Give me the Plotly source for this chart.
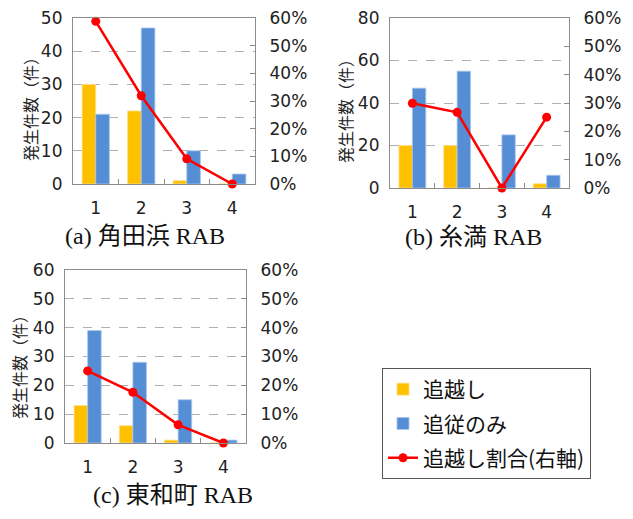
import plotly.graph_objects as go

categories = ["1", "2", "3", "4"]

# (a) 角田浜 RAB
a_overtake = [30, 22, 1, 0]
a_follow = [21, 47, 10, 3]
a_ratio = [58.8, 31.9, 9.1, 0.0]

# (b) 糸満 RAB
b_overtake = [20, 20, 0, 2]
b_follow = [47, 55, 25, 6]
b_ratio = [29.9, 26.7, 0.0, 25.0]

# (c) 東和町 RAB
c_overtake = [13, 6, 1, 0]
c_follow = [39, 28, 15, 1]
c_ratio = [25.0, 17.6, 6.3, 0.0]

series_names = ["追越し", "追従のみ", "追越し割合(右軸)"]
captions = ["(a) 角田浜 RAB", "(b) 糸満 RAB", "(c) 東和町 RAB"]
left_ranges = [50, 80, 60]
left_dticks = [10, 20, 10]
right_ticks = [0, 10, 20, 30, 40, 50, 60]
right_ticklabels = ["0%", "10%", "20%", "30%", "40%", "50%", "60%"]
ytitle = "発生件数（件）"

W, H = 633, 519
ORANGE = "#FFC000"
BLUE = "#558ED5"
RED = "#FF0000"
AXIS_GRAY = "#8c8c8c"
TICK_FONT = dict(family="DejaVu Sans, Liberation Sans, sans-serif", size=17, color="#222222")
CJK_FONT = "Noto Sans CJK JP"

# plot areas in pixels: (left, right, top, bottom)
boxes = [(73, 255, 18, 184), (390, 569, 18, 188), (65, 246, 270, 443)]

def xd(px):
    return px / W

def yd(py):
    return 1 - py / H

panels = [
    (a_overtake, a_follow, a_ratio),
    (b_overtake, b_follow, b_ratio),
    (c_overtake, c_follow, c_ratio),
]

fig = go.Figure()
layout = {}
annotations = []

for i, (ov, fo, ra) in enumerate(panels):
    n = i + 1
    xname = "x" if n == 1 else f"x{n}"
    yL = 2 * i + 1
    yR = 2 * i + 2
    yLname = "y" if yL == 1 else f"y{yL}"
    yRname = f"y{yR}"
    show = (i == 0)

    fig.add_trace(go.Bar(
        x=categories, y=ov, name=series_names[0], marker_color=ORANGE,
        marker_line=dict(color="#FFE08A", width=0.8),
        xaxis=xname, yaxis=yLname, showlegend=show, legendgroup="g1",
        offsetgroup="o1",
    ))
    fig.add_trace(go.Bar(
        x=categories, y=fo, name=series_names[1], marker_color=BLUE,
        marker_line=dict(color="#A9C6EE", width=0.8),
        xaxis=xname, yaxis=yLname, showlegend=show, legendgroup="g2",
        offsetgroup="o2",
    ))
    fig.add_trace(go.Scatter(
        x=categories, y=ra, name=series_names[2], mode="lines+markers",
        line=dict(color=RED, width=2.5), marker=dict(color=RED, size=9),
        xaxis=xname, yaxis=yRname, showlegend=show, legendgroup="g3",
        cliponaxis=False,
    ))

    l, r, t, b = boxes[i]
    xkey = "xaxis" if n == 1 else f"xaxis{n}"
    yLkey = "yaxis" if yL == 1 else f"yaxis{yL}"
    yRkey = f"yaxis{yR}"

    layout[xkey] = dict(
        domain=[xd(l), xd(r)], anchor=yLname, type="category",
        showline=True, linecolor=AXIS_GRAY, linewidth=1.2, mirror=True,
        ticks="inside", tickson="boundaries", ticklen=5, tickcolor=AXIS_GRAY,
        tickfont=TICK_FONT, ticklabelstandoff=8, showgrid=False,
        automargin=False, fixedrange=True,
    )
    layout[yLkey] = dict(
        domain=[yd(b), yd(t)], anchor=xname, range=[0, left_ranges[i]],
        dtick=left_dticks[i], tick0=0,
        showline=True, linecolor=AXIS_GRAY, linewidth=1.2,
        ticks="", tickfont=TICK_FONT, ticklabelstandoff=6,
        showgrid=True, gridcolor="#b0b0b0", griddash="dash", gridwidth=1,
        zeroline=False, automargin=False, ticklabeloverflow="allow",
        fixedrange=True,
    )
    layout[yRkey] = dict(
        overlaying=yLname, side="right", anchor=xname, range=[0, 60],
        tickvals=right_ticks, ticktext=right_ticklabels,
        showline=True, linecolor=AXIS_GRAY, linewidth=1.2,
        ticks="inside", ticklen=5, tickcolor=AXIS_GRAY,
        tickfont=TICK_FONT, ticklabelstandoff=10,
        showgrid=False, zeroline=False, automargin=False,
        ticklabeloverflow="allow", fixedrange=True,
    )

    # y-axis title
    tx = [30, 345, 19][i]
    ty = [105, 107, 363][i]
    annotations.append(dict(
        text=ytitle, xref="paper", yref="paper", x=xd(tx), y=yd(ty),
        xanchor="center", yanchor="middle", textangle=-90, showarrow=False,
        font=dict(family=CJK_FONT, size=16, color="#222222"),
    ))
    # caption
    cx = [145, 473, 173][i]
    cy = [236, 237, 495][i]
    annotations.append(dict(
        text=captions[i], xref="paper", yref="paper", x=xd(cx), y=yd(cy),
        xanchor="center", yanchor="middle", showarrow=False,
        font=dict(family="Liberation Serif, Noto Sans CJK JP, serif", size=24, color="#111111"),
    ))

layout.update(dict(
    width=W, height=H,
    margin=dict(l=0, r=0, t=0, b=0, autoexpand=False),
    paper_bgcolor="white", plot_bgcolor="white",
    barmode="group", bargap=0.4, bargroupgap=0.0,
    hovermode=False,
    showlegend=True,
    legend=dict(
        x=xd(382), y=yd(368), xanchor="left", yanchor="top",
        bordercolor="#555555", borderwidth=1, bgcolor="white",
        font=dict(family=CJK_FONT, size=21, color="#111111"),
        tracegroupgap=4, itemwidth=30,
        traceorder="grouped",
    ),
    annotations=annotations,
))

fig.update_layout(**layout)
fig.write_html(
    "out.html",
    config={"displayModeBar": False},
    post_script="document.body.style.margin='0';",
)
